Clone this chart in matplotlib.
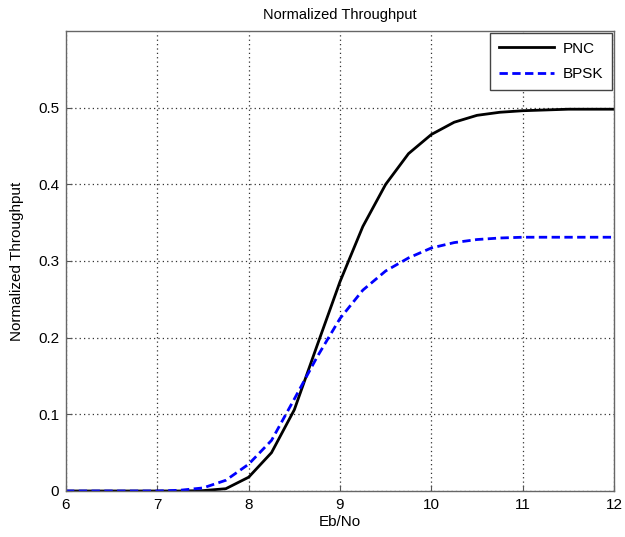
import matplotlib
matplotlib.use("Agg")
import matplotlib.pyplot as plt

plt.rcParams['font.family'] = ['Liberation Sans', 'DejaVu Sans']

ebno = [6.0, 6.25, 6.5, 6.75, 7.0, 7.25, 7.5, 7.75, 8.0, 8.25, 8.5, 8.75, 9.0,
        9.25, 9.5, 9.75, 10.0, 10.25, 10.5, 10.75, 11.0, 11.25, 11.5, 11.75, 12.0]
pnc = [0.0, 0.0, 0.0, 0.0, 0.0, 0.0, 0.0005, 0.003, 0.018, 0.05, 0.106, 0.19, 0.273,
       0.345, 0.40, 0.44, 0.465, 0.481, 0.49, 0.494, 0.496, 0.497, 0.498, 0.498, 0.498]
bpsk = [0.0, 0.0, 0.0, 0.0, 0.0, 0.001, 0.004, 0.014, 0.035, 0.066, 0.12, 0.175, 0.225,
        0.262, 0.287, 0.304, 0.317, 0.324, 0.328, 0.330, 0.331, 0.331, 0.331, 0.331, 0.331]

fig = plt.figure(figsize=(6.25, 5.37), dpi=100)
ax = fig.add_axes([66/625, 1 - 491/537, (614-66)/625, (491-31)/537])

ax.plot(ebno, pnc, color='black', lw=2, label='PNC')
ax.plot(ebno, bpsk, color='blue', lw=2, ls=(0, (3, 1.6)), label='BPSK')

ax.set_xlim(6, 12)
ax.set_ylim(0, 0.6)
ax.set_xticks([6, 7, 8, 9, 10, 11, 12])
ax.set_yticks([0, 0.1, 0.2, 0.3, 0.4, 0.5])
ax.set_yticklabels(['0', '0.1', '0.2', '0.3', '0.4', '0.5'])
ax.grid(True, color='#333333', ls=(0, (1, 2.5)), lw=0.9)
ax.tick_params(labelsize=11, direction='in', length=4, color='#555555', pad=5)
for s in ax.spines.values():
    s.set_color('#666666')
    s.set_linewidth(1)

ax.set_title('Normalized Throughput', fontsize=10.5, pad=9)
ax.set_xlabel('Eb/No', fontsize=11, labelpad=2)
ax.set_ylabel('Normalized Throughput', fontsize=11, labelpad=10)

leg = ax.legend(loc='upper right', fontsize=11, fancybox=False, framealpha=1,
                edgecolor='#444444', borderaxespad=0.15, handlelength=3.6,
                labelspacing=0.75, borderpad=0.55, handletextpad=0.6)
leg.get_frame().set_linewidth(1)

fig.savefig('out.png', dpi=100, facecolor='white')
